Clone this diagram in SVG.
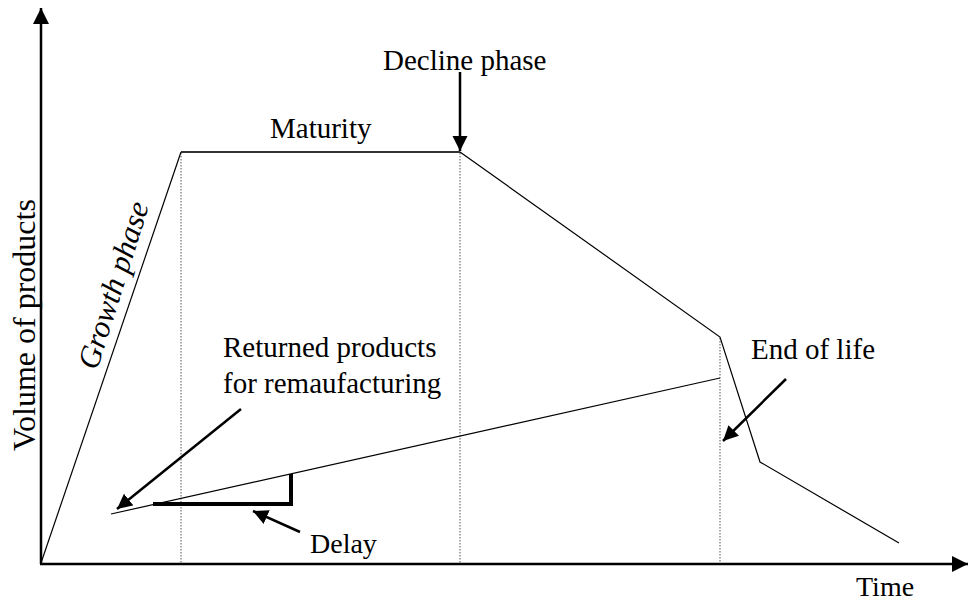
<svg xmlns="http://www.w3.org/2000/svg" width="969" height="602" viewBox="0 0 969 602">
  <style>
    .lbl { font-family: "Liberation Serif", "Times New Roman", serif; font-size: 29px; fill: #000; }
    .curve { fill: none; stroke: #000; stroke-width: 1.2; }
    .guide { fill: none; stroke: #555; stroke-width: 1; stroke-dasharray: 1.5 1.5; }
    .axis { fill: none; stroke: #000; stroke-width: 2.5; }
    .pointer { fill: none; stroke: #000; stroke-width: 2.5; }
  </style>
  <defs>
    <marker id="head" markerUnits="userSpaceOnUse" markerWidth="16" markerHeight="16" refX="15" refY="7.5" orient="auto">
      <path d="M0,0 L15,7.5 L0,15 z" fill="#000"/>
    </marker>
    <marker id="axisHead" markerUnits="userSpaceOnUse" markerWidth="18" markerHeight="18" refX="16" refY="8" orient="auto">
      <path d="M0,0 L16,8 L0,16 z" fill="#000"/>
    </marker>
  </defs>

  <!-- axes -->
  <g id="axes">
    <line class="axis" x1="41" y1="564" x2="41" y2="8" marker-end="url(#axisHead)"/>
    <line class="axis" x1="40" y1="564" x2="968" y2="564" marker-end="url(#axisHead)"/>
    <text class="lbl" x="856" y="596" style="font-size:28px">Time</text>
    <text class="lbl" transform="translate(35,325) rotate(-90)" text-anchor="middle" style="font-size:32px">Volume of products</text>
  </g>

  <!-- phase boundaries -->
  <g id="guides">
    <line class="guide" x1="181" y1="153" x2="181" y2="563"/>
    <line class="guide" x1="460" y1="153" x2="460" y2="563"/>
    <line class="guide" x1="720" y1="338" x2="720" y2="563"/>
  </g>

  <!-- product life-cycle curve -->
  <g id="lifecycle">
    <polyline class="curve" points="41,563 181,152"/>
    <line x1="181" y1="152" x2="460" y2="152" stroke="#333" stroke-width="1.8"/>
    <polyline class="curve" points="460,152 720,337 760,462 899,543"/>
  </g>

  <!-- returned products curve -->
  <g id="returns">
    <line class="curve" x1="111" y1="514" x2="720" y2="378"/>
    <polyline points="153,504 291,504 291,474" fill="none" stroke="#000" stroke-width="4"/>
  </g>

  <!-- labels -->
  <g id="growth">
    <text class="lbl" transform="translate(97,371) rotate(-72.5)" style="font-size:31px;font-style:italic">Growth phase</text>
  </g>
  <g id="maturity">
    <text class="lbl" x="270" y="138">Maturity</text>
  </g>
  <g id="decline">
    <text class="lbl" x="383" y="70">Decline phase</text>
  </g>
  <g id="returned">
    <text class="lbl" x="223" y="357">Returned products</text>
    <text class="lbl" x="223" y="393">for remaufacturing</text>
  </g>
  <g id="endoflife">
    <text class="lbl" x="751" y="359">End of life</text>
  </g>
  <g id="delay">
    <text class="lbl" x="310" y="553" style="font-size:28px">Delay</text>
  </g>

  <!-- pointers -->
  <g id="connectors">
    <line class="pointer" x1="460" y1="72" x2="460" y2="151" marker-end="url(#head)"/>
    <line class="pointer" x1="241" y1="409" x2="117" y2="509" marker-end="url(#head)"/>
    <line class="pointer" x1="786" y1="379" x2="723" y2="441" marker-end="url(#head)"/>
    <line class="pointer" x1="300" y1="532" x2="253" y2="511" marker-end="url(#head)"/>
  </g>
</svg>
